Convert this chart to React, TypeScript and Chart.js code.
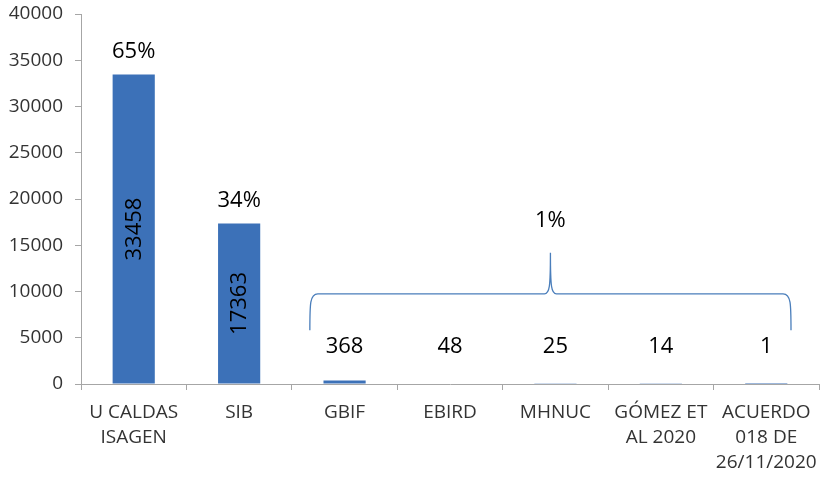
import React, { useEffect, useRef } from "react";
import { Chart, registerables } from "chart.js";

Chart.register(...registerables);

const categories: (string | string[])[] = [
  ["U CALDAS", "ISAGEN"],
  "SIB",
  "GBIF",
  "EBIRD",
  "MHNUC",
  ["GÓMEZ ET", "AL 2020"],
  ["ACUERDO", "018 DE", "26/11/2020"],
];
const values = [33458, 17363, 368, 48, 25, 14, 1];
const percentLabels = ["65%", "34%"];
const groupPercent = "1%";
const yTicks = [0, 5000, 10000, 15000, 20000, 25000, 30000, 35000, 40000];

const BAR = "#3C71B8";
const AXIS = "#A6A6A6";
const TEXT = "#333333";
const FONT = "'Open Sans', sans-serif";

const labelPlugin = {
  id: "customLabels",
  afterDatasetsDraw(chart: any) {
    const { ctx } = chart;
    const meta = chart.getDatasetMeta(0);
    const y = chart.scales.y;
    const x = chart.scales.x;
    ctx.save();
    ctx.fillStyle = "#000";
    ctx.font = `22px ${FONT}`;
    ctx.textAlign = "center";
    ctx.textBaseline = "middle";
    meta.data.forEach((bar: any, i: number) => {
      const v = values[i];
      if (i < percentLabels.length) {
        const cy = (bar.y + bar.base) / 2;
        ctx.save();
        ctx.translate(bar.x, cy);
        ctx.rotate(-Math.PI / 2);
        ctx.fillText(String(v), 0, 1);
        ctx.restore();
        ctx.fillText(percentLabels[i], bar.x, bar.y - 23);
      } else {
        ctx.fillText(String(v), bar.x, y.getPixelForValue(4000));
      }
    });

    const firstIdx = percentLabels.length;
    const lastIdx = values.length - 1;
    const half = (x.getPixelForValue(1) - x.getPixelForValue(0)) / 2;
    const left = x.getPixelForValue(firstIdx) - half + 18;
    const right = x.getPixelForValue(lastIdx) + half - 28;
    const mid = (left + right) / 2;
    const yEnd = y.getPixelForValue(5800);
    const yLine = y.getPixelForValue(9750);
    const yPeak = y.getPixelForValue(14200);
    const r = 8;
    ctx.strokeStyle = "#4A7EBB";
    ctx.lineWidth = 1.3;
    ctx.beginPath();
    ctx.moveTo(left, yEnd);
    ctx.bezierCurveTo(left, yLine + 10, left, yLine, left + r, yLine);
    ctx.lineTo(mid - 6, yLine);
    ctx.bezierCurveTo(mid - 1, yLine, mid, yLine - 6, mid, yPeak);
    ctx.bezierCurveTo(mid, yLine - 6, mid + 1, yLine, mid + 6, yLine);
    ctx.lineTo(right - r, yLine);
    ctx.bezierCurveTo(right, yLine, right, yLine + 10, right, yEnd);
    ctx.stroke();

    ctx.fillStyle = "#000";
    ctx.fillText(groupPercent, mid, y.getPixelForValue(17600));
    ctx.restore();
  },
};

export default function App() {
  const ref = useRef<HTMLCanvasElement | null>(null);
  useEffect(() => {
    if (!ref.current) return;
    const chart = new Chart(ref.current, {
      type: "bar",
      data: {
        labels: categories,
        datasets: [
          {
            data: values,
            backgroundColor: BAR,
            borderWidth: 0,
            barPercentage: 0.4,
            categoryPercentage: 1,
          },
        ],
      },
      options: {
        responsive: false,
        animation: false,
        layout: { padding: { top: 14, right: 5, left: 0, bottom: 0 } },
        plugins: {
          legend: { display: false },
          tooltip: { enabled: false },
        },
        scales: {
          x: {
            offset: true,
            grid: {
              offset: true,
              drawOnChartArea: false,
              drawTicks: true,
              tickLength: 6,
              color: AXIS,
            },
            border: { color: AXIS, width: 1 },
            ticks: {
              autoSkip: false,
              maxRotation: 0,
              minRotation: 0,
              padding: 10,
              color: TEXT,
              font: { family: FONT, size: 19, lineHeight: 1.32 },
            },
            afterFit: (s: any) => {
              s.height = 95;
              s.paddingLeft = 0;
              s.paddingRight = 0;
            },
          },
          y: {
            min: 0,
            max: 40000,
            afterBuildTicks: (s: any) => {
              s.ticks = yTicks.map((v) => ({ value: v }));
            },
            grid: {
              drawOnChartArea: false,
              drawTicks: true,
              tickLength: 6,
              color: AXIS,
            },
            border: { color: AXIS, width: 1 },
            ticks: {
              padding: 12,
              color: TEXT,
              font: { family: FONT, size: 19 },
              callback: (v: any) => String(v),
            },
            afterFit: (s: any) => {
              s.width = 81;
              s.paddingTop = 0;
              s.paddingBottom = 0;
            },
          },
        },
      },
      plugins: [labelPlugin],
    });
    return () => chart.destroy();
  }, []);
  return (
    <div style={{ position: "absolute", left: 0, top: 0, width: 824, height: 479, background: "#fff" }}>
      <canvas ref={ref} width={824} height={479} style={{ display: "block" }} />
    </div>
  );
}
